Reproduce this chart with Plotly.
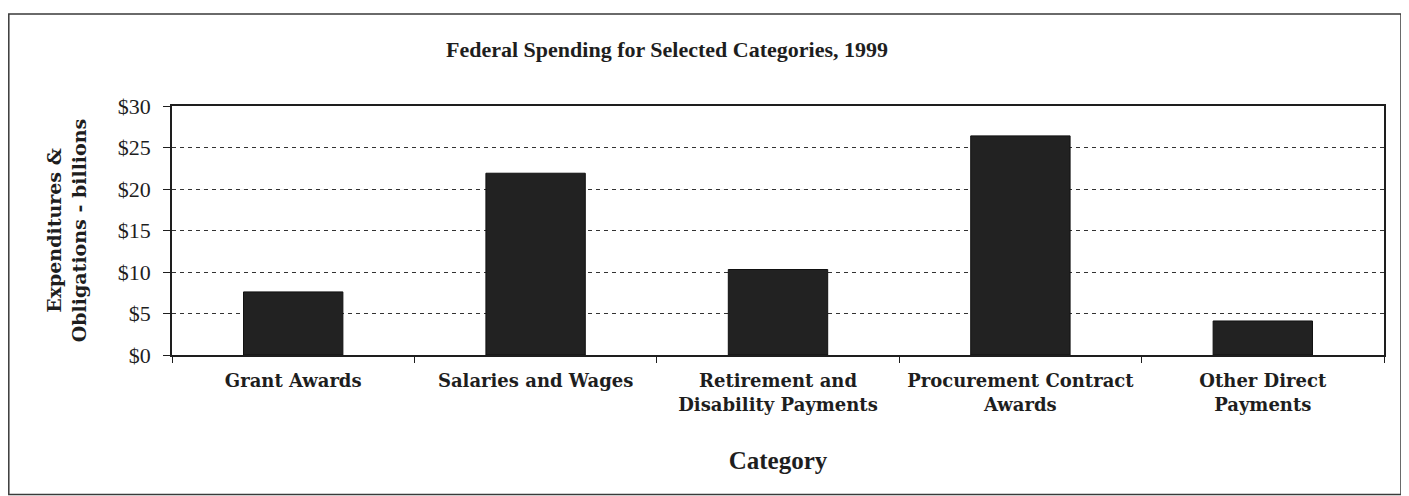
import plotly.graph_objects as go

categories = ["Grant Awards", "Salaries and Wages", "Retirement and<br>Disability Payments",
              "Procurement Contract<br>Awards", "Other Direct<br>Payments"]
values = [7.6, 21.9, 10.3, 26.4, 4.1]
y_ticks = [0, 5, 10, 15, 20, 25, 30]
y_tick_labels = ["$0", "$5", "$10", "$15", "$20", "$25", "$30"]

TIMES = "Liberation Serif, Times New Roman, serif"
WIDE = "DejaVu Serif, serif"
INK = "#1e1e1e"

# figure is drawn inside an 8px body margin, so size and margins are set accordingly
W, H = 1401, 488
L, T, PW, PH = 164, 98, 1212, 249

fig = go.Figure()
fig.add_trace(go.Bar(
    x=categories, y=values,
    marker=dict(color="#222222", line=dict(color="#111111", width=1)),
    width=0.41,
))

fig.update_layout(
    width=W, height=H,
    paper_bgcolor="white", plot_bgcolor="white",
    margin=dict(l=L, r=W - L - PW, t=T, b=H - T - PH),
    showlegend=False,
    title=dict(text="<b>Federal Spending for Selected Categories, 1999</b>",
               x=(659 - L) / PW, xref="paper", xanchor="center",
               y=1 - 41 / H, yref="container", yanchor="middle",
               font=dict(family=TIMES, size=22, color=INK)),
    shapes=[dict(type="rect", xref="paper", yref="paper", layer="below",
                 x0=(0.8 - L) / PW, x1=(1393 - L) / PW,
                 y0=(T + PH - 486.5) / PH, y1=(T + PH - 6) / PH,
                 line=dict(color="#3a3a3a", width=1.5))],
)

fig.update_xaxes(
    tickmode="array", tickvals=categories,
    ticktext=["<b>" + c + "</b>" for c in categories],
    tickfont=dict(family=WIDE, size=18, color=INK),
    ticks="outside", tickson="boundaries", ticklen=6, tickcolor=INK, ticklabelstandoff=9,
    showline=True, linecolor=INK, linewidth=1.5, mirror=True,
    showgrid=False,
    title=dict(text="<b>Category</b>", font=dict(family=TIMES, size=25, color=INK), standoff=38),
)

fig.update_yaxes(
    range=[0, 30], tickmode="array", tickvals=y_ticks, ticktext=y_tick_labels,
    tickfont=dict(family=TIMES, size=22, color=INK),
    ticks="outside", ticklen=7, tickcolor=INK, ticklabelstandoff=8,
    showline=True, linecolor=INK, linewidth=1.5, mirror=True,
    showgrid=True, gridcolor="#333333", gridwidth=1, griddash="4px,4px",
    zeroline=False,
    title=dict(text="<b>Expenditures &amp;<br>Obligations - billions</b>",
               font=dict(family=WIDE, size=19, color=INK), standoff=26),
)

fig.write_html("out.html")
